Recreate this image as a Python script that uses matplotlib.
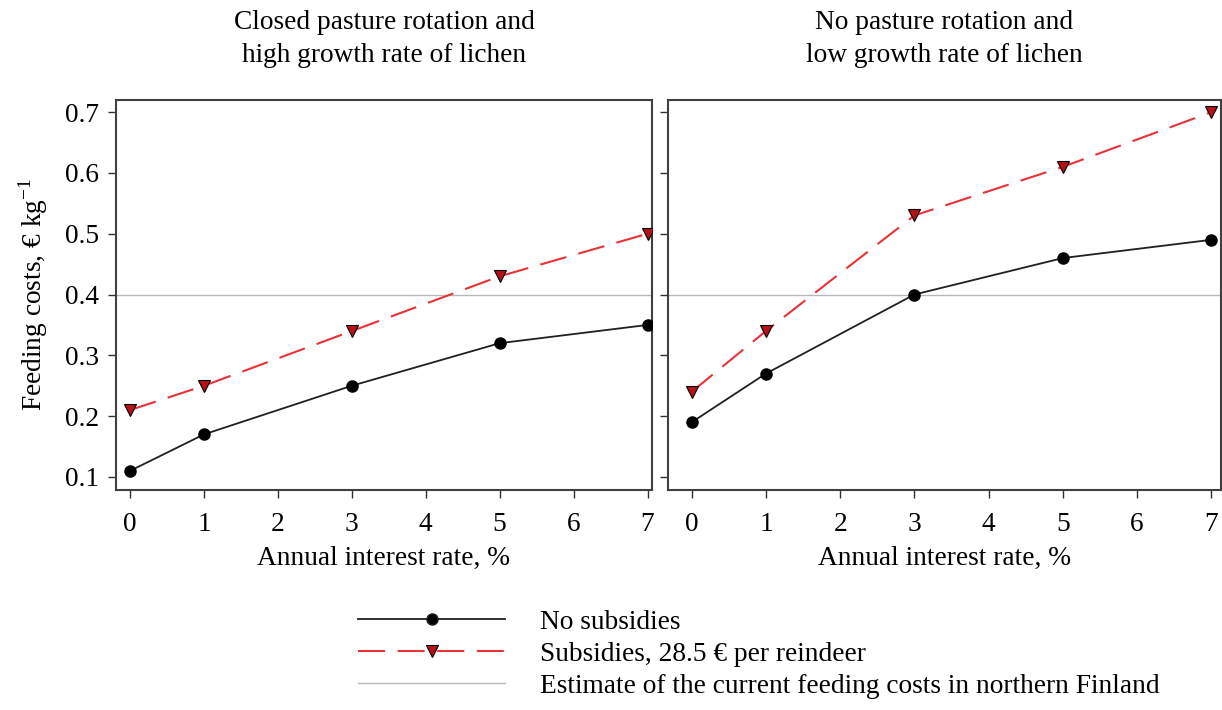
import matplotlib
matplotlib.use("Agg")
import matplotlib.pyplot as plt
from matplotlib.lines import Line2D

plt.rcParams['font.family'] = ['Liberation Serif', 'DejaVu Serif']
plt.rcParams['mathtext.fontset'] = 'custom'
plt.rcParams['mathtext.rm'] = 'Liberation Serif'

# interest rates and feeding costs (EUR per kg)
rates = [0, 1, 3, 5, 7]
closed_no_subsidy = [0.11, 0.17, 0.25, 0.32, 0.35]
closed_subsidy = [0.21, 0.25, 0.34, 0.43, 0.50]
open_no_subsidy = [0.19, 0.27, 0.40, 0.46, 0.49]
open_subsidy = [0.24, 0.34, 0.53, 0.61, 0.70]
current_cost = 0.4

titles = ["Closed pasture rotation and\nhigh growth rate of lichen",
          "No pasture rotation and\nlow growth rate of lichen"]
legend_labels = ["No subsidies",
                 "Subsidies, 28.5 \u20ac per reindeer",
                 "Estimate of the current feeding costs in northern Finland"]

fs = 19.7
red = '#e8323a'
fig = plt.figure(figsize=(12.22, 7.10), dpi=100)
ax1 = fig.add_axes([0.0949, 0.3099, 0.4386, 0.5493])
ax2 = fig.add_axes([0.5466, 0.3099, 0.4525, 0.5493])

panels = [(ax1, closed_no_subsidy, closed_subsidy, (-0.19, 7.06)),
          (ax2, open_no_subsidy, open_subsidy, (-0.32, 7.13))]

for i, (ax, base, sub, xlim) in enumerate(panels):
    ax.axhline(current_cost, color='#b8b8b8', lw=1.0, zorder=1)
    ax.plot(rates, sub, color=red, lw=1.5, dashes=(13, 6),
            marker='v', markersize=9, markerfacecolor='#b81018',
            markeredgecolor='black', markeredgewidth=0.8, zorder=3)
    ax.plot(rates, base, color='#202020', lw=1.3,
            marker='o', markersize=8, markerfacecolor='black',
            markeredgecolor='black', zorder=4)
    ax.set_xlim(*xlim)
    ax.set_ylim(0.0786, 0.72)
    ax.set_xticks(range(8))
    ax.set_yticks([0.1, 0.2, 0.3, 0.4, 0.5, 0.6, 0.7])
    ax.tick_params(direction='out', length=6, width=1.0, labelsize=fs,
                   color='#303030')
    ax.tick_params(axis='x', pad=10)
    ax.tick_params(axis='y', pad=6)
    for sp in ax.spines.values():
        sp.set_color('#404040')
        sp.set_linewidth(1.5)
    ax.set_xlabel("Annual interest rate, %", fontsize=fs, labelpad=6)
    ax.set_title(titles[i], fontsize=fs, pad=27, linespacing=1.45)

ax2.tick_params(labelleft=False)
ax1.set_ylabel("Feeding costs, \u20ac kg$^{\\mathrm{-1}}$", fontsize=fs,
               labelpad=11)

handles = [
    Line2D([], [], color='#202020', lw=1.3, marker='o', markersize=8,
           markerfacecolor='black'),
    Line2D([], [], color=red, lw=1.5, dashes=(13, 6), marker='v',
           markersize=8, markerfacecolor='#b81018', markeredgecolor='black',
           markeredgewidth=0.8),
    Line2D([], [], color='#b8b8b8', lw=1.0),
]
fig.legend(handles, legend_labels, loc='upper left',
           bbox_to_anchor=(0.293, 0.141), frameon=False, fontsize=fs,
           handlelength=5.37, handletextpad=1.28, labelspacing=0.25,
           borderpad=0, borderaxespad=0)

fig.savefig("out.png", dpi=100)
